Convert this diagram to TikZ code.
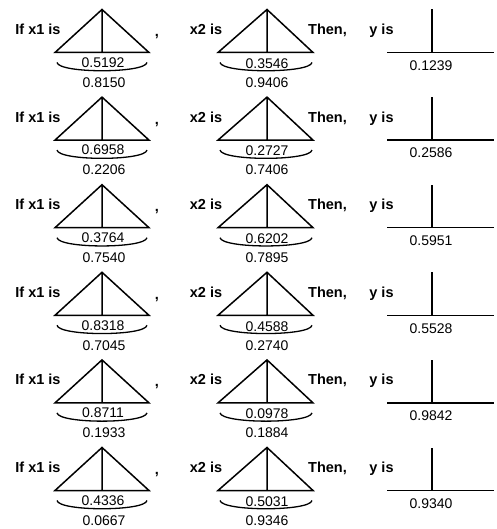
\documentclass[tikz,border=0pt]{standalone}
\usepackage{fontspec}
\setmainfont{Liberation Sans}
\begin{document}
\begin{tikzpicture}[x=1pt,y=-1pt,line width=1.4pt,
  word/.style={font=\fontsize{14.5}{16}\selectfont\bfseries,inner sep=0pt,anchor=base},
  val/.style={font=\fontsize{14}{16}\selectfont,inner sep=0pt},
  member/.style={line width=1.5pt,line join=miter},
  span/.style={line width=1.3pt}]
\useasboundingbox (0,0) rectangle (496,529);
% one rule per row: x1 support/peak, x2 support/peak, y singleton
\foreach \r/\pa/\sa/\pb/\sb/\yv in {
  0/0.5192/0.8150/0.3546/0.9406/0.1239,
  1/0.6958/0.2206/0.2727/0.7406/0.2586,
  2/0.3764/0.7540/0.6202/0.7895/0.5951,
  3/0.8318/0.7045/0.4588/0.2740/0.5528,
  4/0.8711/0.1933/0.0978/0.1884/0.9842,
  5/0.4336/0.0667/0.5031/0.9346/0.9340}{
  \pgfmathsetmacro\B{52.5+87.6*\r}
  % words of the rule
  \node[word] (if\r)   at (38,\B-18) {If x1 is};
  \node[word] (cm\r)   at (157,\B-16) {,};
  \node[word] (xtwo\r) at (206,\B-18) {x2 is};
  \node[word] (then\r) at (327.5,\B-18) {Then,};
  \node[word] (yis\r)  at (381.5,\B-18) {y is};
  % triangular set for x1
  \coordinate (aL\r) at (55,\B);
  \coordinate (aT\r) at (102,\B-43);
  \coordinate (aR\r) at (149,\B);
  \coordinate (aM\r) at (102,\B);
  \draw[member] (aL\r) -- (aT\r) -- (aR\r) -- cycle (aT\r) -- (aM\r);
  \coordinate (aS\r) at (57,\B+10);
  \coordinate (aE\r) at (147,\B+10);
  \draw[span] (aS\r) .. controls (59,\B+21) and (145,\B+21) .. (aE\r);
  \node[val] (pa\r) at (103,\B+10) {\pa};
  \node[val] (sa\r) at (104,\B+30) {\sa};
  % triangular set for x2
  \coordinate (bL\r) at (218,\B);
  \coordinate (bT\r) at (267,\B-43);
  \coordinate (bR\r) at (313,\B);
  \coordinate (bM\r) at (267,\B);
  \draw[member] (bL\r) -- (bT\r) -- (bR\r) -- cycle (bT\r) -- (bM\r);
  \coordinate (bS\r) at (220,\B+10);
  \coordinate (bE\r) at (312,\B+10);
  \draw[span] (bS\r) .. controls (222,\B+21) and (310,\B+21) .. (bE\r);
  \node[val] (pb\r) at (267,\B+11) {\pb};
  \node[val] (sb\r) at (267,\B+30) {\sb};
  % singleton output y
  \coordinate (yL\r) at (387,\B);
  \coordinate (yR\r) at (494,\B);
  \coordinate (yB\r) at (432,\B);
  \coordinate (yT\r) at (432,\B-43);
  \draw[member] (yL\r) -- (yR\r) (yB\r) -- (yT\r);
  \node[val] (yv\r) at (431,\B+13) {\yv};
}
\end{tikzpicture}
\end{document}
